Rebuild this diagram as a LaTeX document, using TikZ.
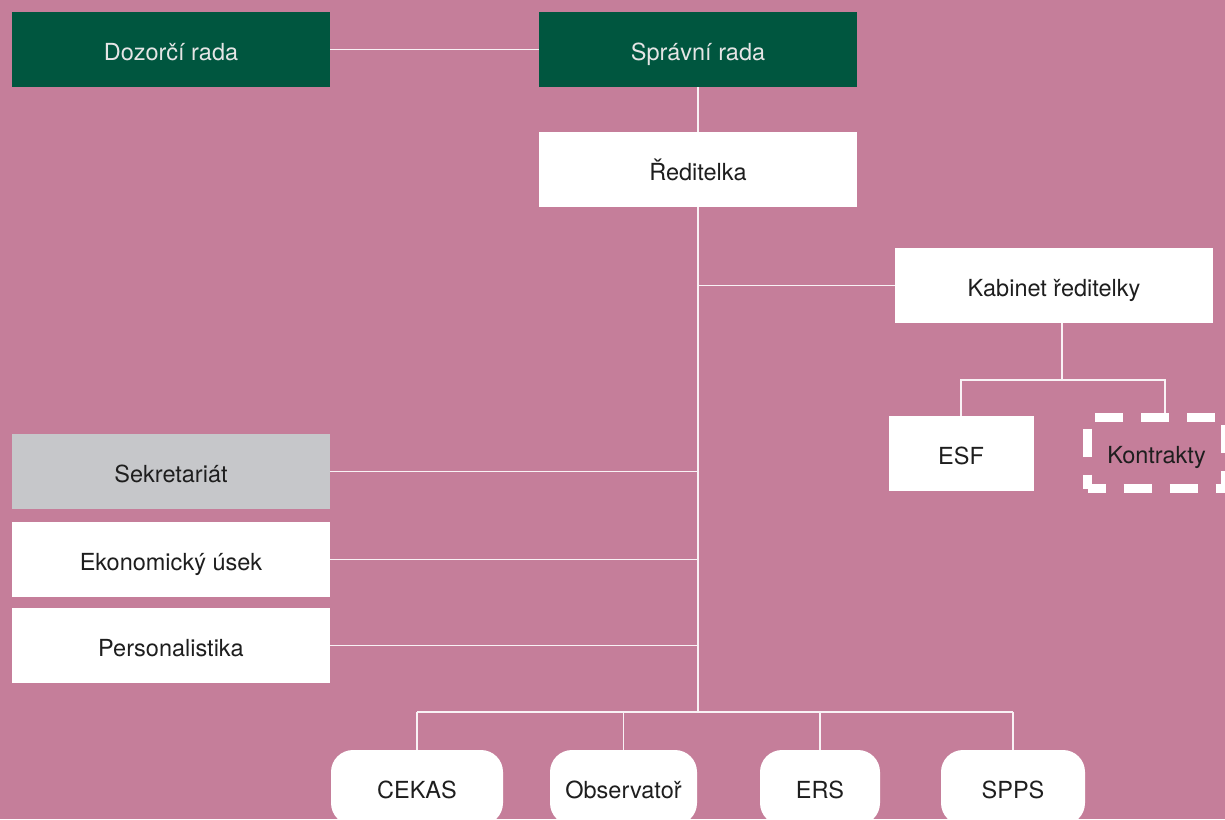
\documentclass[tikz,border=0pt]{standalone}
\usepackage{fontspec}
\setmainfont{TeX Gyre Heros}

\definecolor{pinkbg}{HTML}{C57E9A}
\definecolor{boardgreen}{HTML}{00563F}
\definecolor{secgrey}{HTML}{C6C7CA}
\definecolor{textdark}{HTML}{1E1E1E}

\tikzset{
  unit/.style={rectangle, fill=white, text=textdark, inner sep=0pt,
    minimum width=159pt, minimum height=37.5pt,
    text height=10.5pt, text depth=0pt,
    font=\fontsize{11.75}{14}\selectfont},
  board/.style={unit, fill=boardgreen, text=white!90!black},
  dept/.style={unit, rounded corners=11pt, minimum height=37.5pt},
  link/.style={draw=white!90!pinkbg, line width=0.8pt},
}

\begin{document}
\begin{tikzpicture}[x=0.5pt, y=-0.5pt]

  % background
  \fill[pinkbg] (0,0) rectangle (1225,819);
  \clip (0,0) rectangle (1225,819);

  % boards
  \node[board] (dozorci) at (171,49.5) {Dozorčí rada};
  \node[board] (spravni) at (698,49.5) {Správní rada};
  \draw[link] (dozorci) -- (spravni);

  % director
  \node[unit] (reditelka) at (698,169.5) {Ředitelka};
  \draw[link] (spravni) -- (reditelka);

  % main trunk down to the bus
  \coordinate (bus) at (698,712);
  \draw[link] (reditelka.south) -- (bus);

  % cabinet of the director
  \node[unit] (kabinet) at (1054,285.5) {Kabinet ředitelky};
  \draw[link] (kabinet.west) -- (kabinet.west -| bus);

  % units under the cabinet
  \coordinate (kabbar) at (1062,380);
  \node[unit, minimum width=72.5pt] (esf) at (961,453.5) {ESF};
  \node[unit, fill=none, draw=white, line width=4.5pt,
        dash pattern=on 14pt off 9pt, dash phase=5pt,
        minimum width=69pt, minimum height=35.5pt] (kontrakty) at (1156.5,453) {Kontrakty};
  \draw[link] (kabinet.south -| kabbar) -- (kabbar);
  \draw[link] (esf.north) |- (kabbar) -| ([xshift=4.25pt]kontrakty.north);

  % staff units on the left
  \node[unit, fill=secgrey] (sekretariat) at (171,471.5) {Sekretariát};
  \draw[link] (sekretariat) -- (sekretariat -| bus);
  \node[unit] (ekonomicky) at (171,559.5) {Ekonomický úsek};
  \draw[link] (ekonomicky) -- (ekonomicky -| bus);
  \node[unit] (personalistika) at (171,645.5) {Personalistika};
  \draw[link] (personalistika) -- (personalistika -| bus);

  % departments at the bottom
  \node[dept, minimum width=86pt]   (cekas)      at (417,787.5)   {CEKAS};
  \node[dept, minimum width=73.5pt] (observator) at (623.5,787.5) {Observatoř};
  \node[dept, minimum width=60pt]   (ers)        at (820,787.5)   {ERS};
  \node[dept, minimum width=72pt]   (spps)       at (1013,787.5)  {SPPS};

  % bus to the departments
  \draw[link] (cekas.north |- bus) -- (spps.north |- bus);
  \draw[link] (cekas.north) -- (cekas.north |- bus);
  \draw[link] (observator.north) -- (observator.north |- bus);
  \draw[link] (ers.north) -- (ers.north |- bus);
  \draw[link] (spps.north) -- (spps.north |- bus);

\end{tikzpicture}
\end{document}
